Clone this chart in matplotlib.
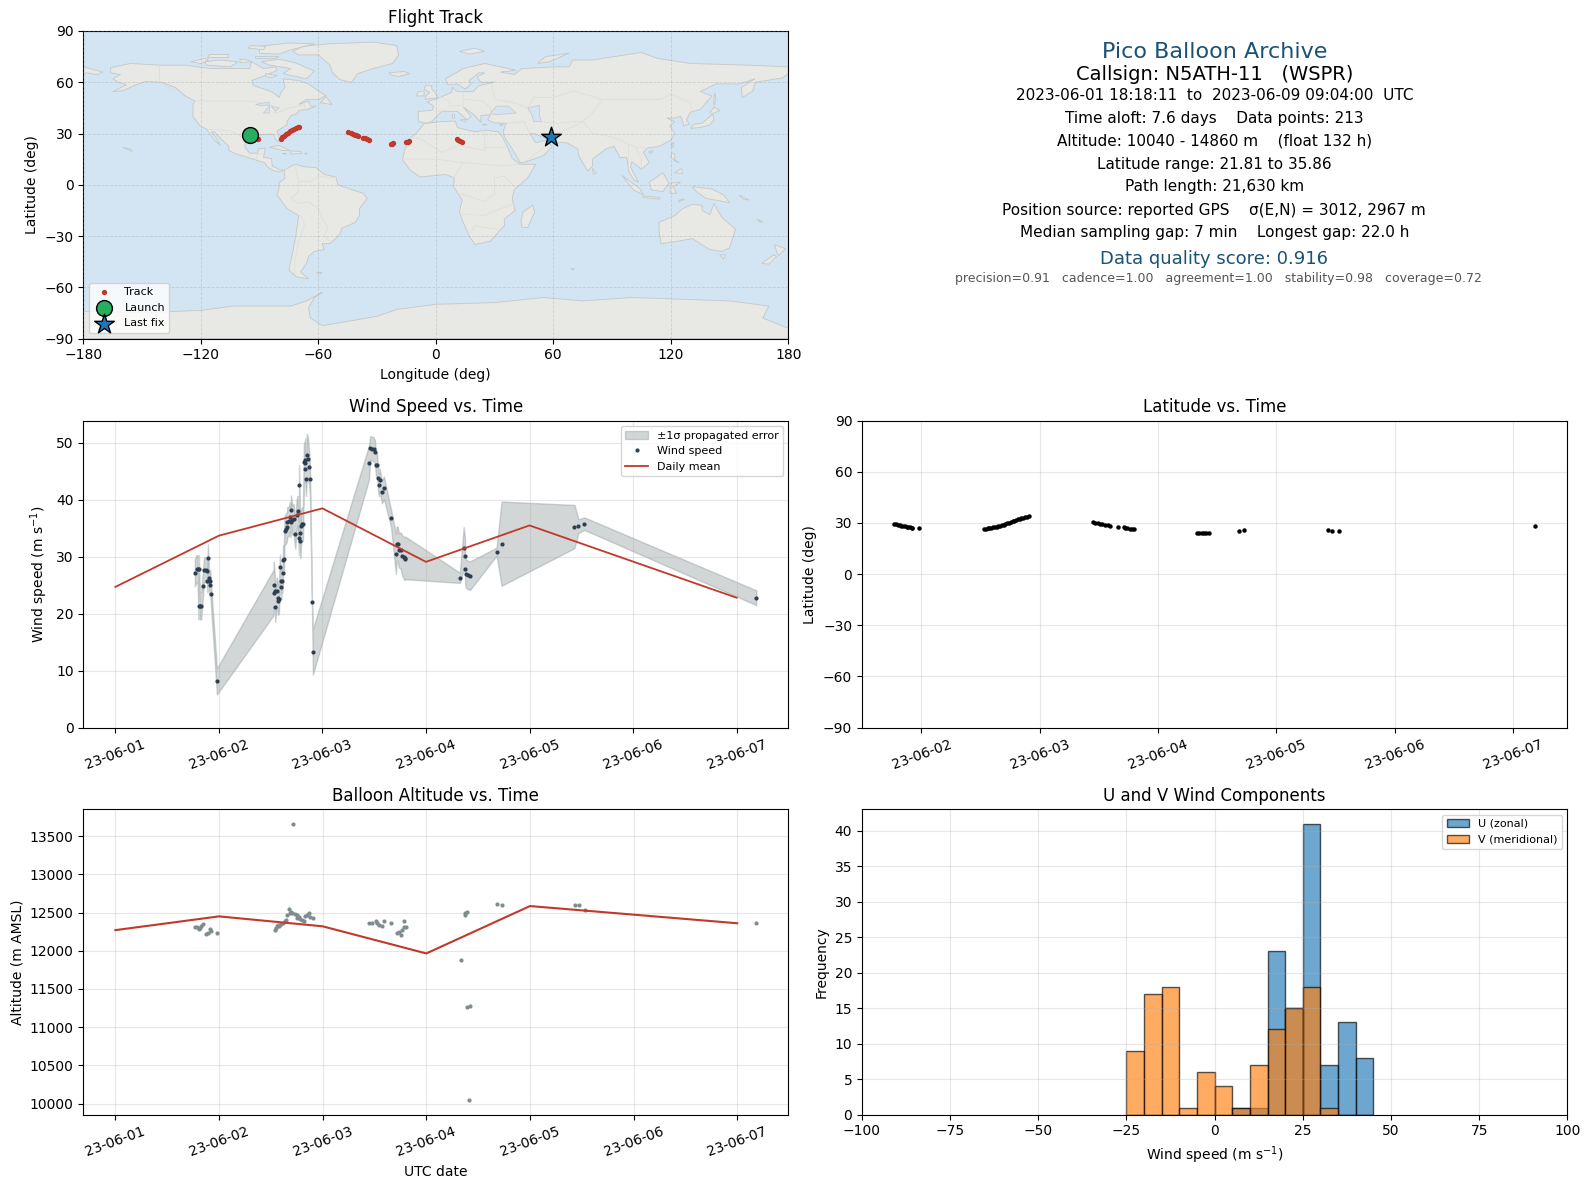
import numpy as np
import matplotlib
matplotlib.use('Agg')
import matplotlib.pyplot as plt
import matplotlib.dates as mdates
from datetime import datetime

# wind speed samples, t in days after 2023-06-01
wind_t = [0.768, 0.784, 0.794, 0.804, 0.807, 0.816, 0.829, 0.845, 0.855, 0.871, 0.884, 0.887, 0.894, 0.903, 0.904, 0.913, 0.916, 0.923, 0.981,
          1.528, 1.531, 1.541, 1.544, 1.560, 1.570, 1.571, 1.580, 1.589, 1.602, 1.603, 1.612, 1.618, 1.619, 1.628, 1.634, 1.647, 1.657, 1.660, 1.676, 1.683, 1.692, 1.696, 1.709, 1.721, 1.738, 1.750, 1.760, 1.773, 1.774, 1.783, 1.786, 1.795, 1.805, 1.812, 1.821, 1.828, 1.834, 1.835, 1.841, 1.850, 1.860, 1.870, 1.879, 1.899, 1.908,
          2.449, 2.462, 2.478, 2.494, 2.507, 2.517, 2.527, 2.536, 2.546, 2.552, 2.575, 2.594, 2.662, 2.710, 2.717, 2.726, 2.739, 2.755, 2.771, 2.784, 2.794, 2.800,
          3.328, 3.364, 3.377, 3.378, 3.386, 3.406, 3.428, 3.682, 3.730, 4.434, 4.473, 4.531, 6.190]
wind_v = [27.2, 27.9, 27.9, 21.4, 27.9, 21.4, 21.4, 24.9, 27.7, 27.7, 27.5, 25.8, 29.8, 26.3, 25.7, 25.1, 25.7, 23.5, 8.1,
          23.7, 25.1, 23.9, 21.2, 23.9, 22.7, 22.3, 22.5, 28.2, 24.7, 25.8, 25.8, 27.2, 29.5, 29.6, 34.6, 34.9, 35.3, 36.1, 36.2, 37.0, 36.1, 38.2, 36.4, 36.7, 34.0, 37.4, 38.1, 33.3, 42.6, 34.2, 32.8, 35.4, 35.7, 35.8, 46.6, 46.4, 47.0, 45.4, 43.7, 47.8, 47.2, 45.8, 43.7, 22.1, 13.3,
          46.5, 49.1, 49.0, 48.9, 48.4, 46.2, 46.2, 43.9, 42.6, 43.5, 41.4, 42.1, 36.8, 30.5, 32.3, 32.3, 31.1, 31.1, 30.2, 29.9, 29.6, 29.8,
          26.3, 31.5, 30.2, 27.9, 27.0, 26.8, 26.7, 30.9, 32.3, 35.3, 35.4, 35.8, 22.8]
wind_err = [2.4, 2.4, 2.4, 2.4, 2.4, 2.4, 2.4, 2.2, 2.2, 2.2, 2.2, 2.0, 2.4, 2.0, 2.0, 2.0, 2.0, 2.0, 2.3,
            4.0, 4.0, 2.5, 2.7, 2.5, 2.5, 2.5, 2.5, 2.2, 2.2, 2.2, 2.2, 2.2, 2.5, 2.5, 2.6, 2.6, 2.6, 2.6, 2.6, 2.6, 2.6, 2.6, 2.6, 2.6, 2.6, 2.6, 2.6, 3.0, 3.5, 3.0, 3.0, 3.0, 3.0, 3.0, 3.5, 3.5, 3.8, 3.0, 3.0, 3.8, 3.8, 3.0, 3.0, 1.0, 4.0,
            3.0, 2.1, 2.1, 2.1, 2.1, 2.0, 2.0, 2.0, 2.0, 2.0, 2.0, 2.0, 1.5, 3.5, 3.0, 3.0, 3.0, 3.2, 3.5, 3.7, 3.7, 3.75,
            0.9, 3.7, 3.0, 2.5, 2.5, 2.5, 2.5, 0.7, 7.4, 3.8, 1.2, 1.1, 1.3]

mean_t = [0, 1, 2, 3, 4, 6]
wind_mean = [24.7, 33.7, 38.5, 29.1, 35.5, 22.8]
alt_mean = [12270, 12450, 12320, 11965, 12585, 12360]

alt_t = [0.768, 0.787, 0.807, 0.820, 0.826, 0.845, 0.878, 0.894, 0.910, 0.923, 0.981,
         1.538, 1.548, 1.560, 1.570, 1.580, 1.596, 1.618, 1.635, 1.651, 1.660, 1.676, 1.683, 1.696, 1.709, 1.711, 1.731, 1.754, 1.757, 1.768, 1.779, 1.805, 1.821, 1.828, 1.850, 1.866, 1.876, 1.908,
         2.449, 2.472, 2.510, 2.527, 2.546, 2.572, 2.594, 2.662, 2.713, 2.739, 2.752, 2.762, 2.784, 2.787, 2.800,
         3.337, 3.369, 3.378, 3.388, 3.397, 3.41, 3.423, 3.683, 3.731, 4.433, 4.471, 4.529, 6.183]
alt_v = [12311, 12306, 12289, 12298, 12319, 12350, 12216, 12233, 12285, 12255, 12233,
         12268, 12298, 12328, 12340, 12328, 12345, 12362, 12385, 12405, 12470, 12552, 12491, 12510, 12491, 13661, 12483, 12470, 12427, 12440, 12414, 12397, 12384, 12457, 12470, 12496, 12440, 12423,
         12362, 12362, 12388, 12362, 12341, 12328, 12388, 12362, 12233, 12242, 12212, 12276, 12311, 12388, 12306,
         11876, 12474, 12491, 12504, 11266, 10047, 11279, 12617, 12604, 12604, 12604, 12539, 12357]

lat_t = [0.768, 0.784, 0.80, 0.816, 0.83, 0.845, 0.86, 0.875, 0.89, 0.903, 0.916, 0.923, 0.981,
         1.528, 1.545, 1.56, 1.575, 1.59, 1.605, 1.62, 1.635, 1.65, 1.665, 1.68, 1.695, 1.71, 1.725, 1.74, 1.755, 1.77, 1.785, 1.80, 1.815, 1.83, 1.845, 1.86, 1.875, 1.89, 1.908,
         2.449, 2.47, 2.49, 2.51, 2.53, 2.55, 2.575, 2.594, 2.662, 2.71, 2.725, 2.74, 2.76, 2.78, 2.80,
         3.33, 3.35, 3.37, 3.39, 3.41, 3.428, 3.682, 3.73, 4.434, 4.473, 4.531, 6.19]
lat_v = [29.5, 29.2, 29.0, 28.7, 28.5, 28.2, 28.0, 27.9, 27.7, 27.4, 27.1, 26.9, 27.1,
         26.4, 26.7, 26.9, 27.1, 27.3, 27.5, 27.7, 27.9, 28.2, 28.5, 28.8, 29.1, 29.4, 29.7, 30.1, 30.5, 30.9, 31.3, 31.7, 32.1, 32.5, 32.9, 33.2, 33.5, 33.7, 33.9,
         30.7, 30.2, 29.9, 29.6, 29.3, 29.0, 28.7, 28.4, 27.7, 27.4, 27.1, 26.9, 26.7, 26.5, 26.4,
         24.1, 24.0, 24.0, 24.0, 24.0, 24.1, 25.3, 25.9, 25.9, 25.2, 25.1, 28.2]

# ground track
track_lon = [-91, -79.3, -78.5, -77.5, -76.5, -75.5, -74.5, -73.5, -72.5, -71.5, -70.5, -70.1,
             -44.6, -43.5, -42.5, -41.5, -40.5, -39.5, -37, -36, -35, -34.2,
             -23, -22.3, -21.8, -15, -14.3, -13.5, 10.8, 11.5, 12.5, 13.5]
track_lat = [27, 27, 27.8, 28.7, 29.6, 30.4, 31.2, 32, 32.8, 33.4, 33.8, 34,
             30.6, 30.2, 29.8, 29.4, 29, 28.6, 27.6, 27.3, 26.9, 26.3,
             24, 24.1, 24.3, 25.1, 25.3, 25.6, 26.7, 26.2, 25.6, 25.1]
launch_lon, launch_lat = -95, 29
last_lon, last_lat = 59, 28

# U and V histogram, 5 m/s bins
hist_edges = [-25, -20, -15, -10, -5, 0, 5, 10, 15, 20, 25, 30, 35, 40]
u_counts = [0, 0, 0, 0, 0, 0, 1, 1, 23, 15, 41, 7, 13, 8]
v_counts = [9, 17, 18, 1, 6, 4, 1, 7, 12, 15, 18, 1, 0, 0]

# rough coastlines (lon, lat)
north_america = [(-166,68.5),(-156,71),(-141,70),(-128,70),(-115,68),(-108,68),(-95,68),(-94,72),(-88,68),(-82,69),(-81,67),(-87,64),(-94,61),(-93,58),(-85,55),(-82,53),(-80,51),(-79,54),(-77,57),(-78,62),(-70,61),(-65,59),(-60,55),(-56,52),(-60,50),(-66,50),(-70,47),(-65,49),(-64,46),(-61,46),(-66,44),(-70,43.5),(-71,41.5),(-74,40.5),(-76,37),(-76,35),(-81,31.5),(-80,27),(-80.5,25),(-82,27),(-83,29.5),(-85,29.7),(-90,29.2),(-94,29.5),(-97,27.5),(-97.5,22),(-95,18.5),(-91,18.5),(-90.5,21),(-87,21.5),(-88,16),(-84,15.5),(-83.5,11),(-80,9),(-77.5,8.5),(-80,7.5),(-83,8.3),(-85.5,10),(-87.5,13),(-92,14.5),(-96,16),(-102,18),(-105.5,20),(-106,23),(-109,26),(-113,31),(-114.7,31),(-112,27),(-110,23),(-112,25),(-115,29),(-117,32.5),(-120.5,34.5),(-124,40),(-124,47),(-123,49),(-128,52),(-133,57),(-140,60),(-148,60.5),(-153,58.5),(-160,55),(-165,54.5),(-158,58.5),(-162,60),(-165,62),(-161,64.5),(-166,65.5)]
south_america = [(-77.5,8.5),(-72,12),(-67,10.5),(-61,10),(-57,6),(-51,4.5),(-50,0),(-44,-2.5),(-37,-5),(-35,-8),(-39,-14),(-39,-18),(-41,-22),(-48,-25.5),(-49,-29),(-54,-34.5),(-58,-34.5),(-57,-38),(-62,-39),(-65,-42),(-66,-46),(-69,-51),(-65,-55),(-71,-54),(-75,-50),(-73.5,-42),(-71.5,-30),(-70,-18),(-76,-14),(-81,-6),(-80,-2),(-80,1),(-77,4)]
africa = [(-6,35.8),(3,37),(10,37.3),(11,33.5),(15,32.3),(20,31),(25,32),(32,31),(34,28),(37,21),(39,15.5),(43,12),(51,12),(47,4),(40,-3),(39,-8),(40.5,-15),(35,-20),(35,-24),(32.5,-27),(28,-33),(20,-35),(17,-30),(14,-22),(12,-16),(13.5,-9),(9,-1),(9.5,4),(5,6),(-4,5),(-8,4.5),(-13,8.5),(-17,14.5),(-16,20),(-13,27.5),(-10,30)]
eurasia = [(-9,37),(-9,43),(-2,43.5),(-1,46),(-4.5,48.5),(2,51),(8,54),(8.5,57),(11,54.5),(19,54.5),(22,58),(30,60),(23,60),(21,63),(25,65.5),(22,65.5),(17,61),(18,59),(15,56),(11,59),(6,58.5),(5,62),(14,68),(25,71),(41,67),(33,66),(40,64.5),(44,68),(60,69),(68,69),(70,73),(80,73),(105,77.5),(113,74),(130,71),(160,70),(180,69),(180,65),(177,62.5),(163,60),(162,55),(156.5,51),(156,57),(163,62),(155,59),(143,59),(135,54.5),(141,52),(135,44),(130,42.5),(128,38),(129.5,35.5),(126.5,34.5),(126,37.5),(125,40),(121.5,39),(118,39),(122,37),(119.5,34.5),(122,30),(120,26),(114,22.5),(108,21.5),(106,19),(109,13),(105,9),(103,11),(100,13.5),(99.5,10),(103.5,1.5),(101,3),(98.5,8),(97.5,16),(94,16),(91,22.5),(87,21),(80,15),(80,11),(77.5,8),(73,17),(72.5,21),(67,24.5),(57,25.5),(56.5,27),(50,30),(48,30),(51,24.5),(56,26),(59.5,22.5),(55,17),(45,13),(43,13),(39,21),(35,28),(34.5,31.5),(36,36),(30,36.2),(26.5,38),(28,41),(23,40.5),(23,36.5),(19.5,41),(14,45.5),(18,40),(16,38),(11,43),(3,43),(0,39.5),(-2,37),(-5,36)]
chukotka = [(-180,69),(-175,67.5),(-170,66),(-173,64.5),(-178,65.5),(-180,65)]
antarctica = [(-180,-90),(180,-90),(180,-84),(167,-78),(170,-71),(150,-68),(100,-66),(75,-68),(55,-66),(30,-69),(0,-70),(-20,-73),(-30,-77),(-58,-82.5),(-64,-78),(-65,-72),(-62,-66),(-58,-63),(-66,-68),(-74,-71),(-103,-71),(-120,-73.5),(-150,-75),(-180,-74)]
australia = [(114,-22),(122,-18),(126,-14),(131,-11.5),(136,-12),(136,-15),(140,-17.5),(142,-11),(146,-19),(153,-26),(150,-37),(146,-39),(140,-38),(135,-34.5),(131,-31.5),(124,-33),(115,-34.5),(114,-27)]
greenland = [(-73,78),(-68,81),(-55,82.5),(-32,83.5),(-20,81.5),(-19,76),(-22,71),(-32,68),(-40,65),(-43,60),(-49,61.5),(-53,66),(-54,70),(-60,76),(-70,76)]
islands = [
    [(-80,73.5),(-72,71.5),(-62,66.5),(-66,62),(-72,63.5),(-78,65),(-74,68),(-85,70),(-89,72)],
    [(-117,70),(-105,69),(-101,72),(-110,73),(-118,72)],
    [(-90,77),(-80,76.5),(-74,79),(-62,82.5),(-75,83),(-90,81)],
    [(-125,72),(-118,74),(-116,73),(-120,71)],
    [(-92,75),(-80,75),(-82,74),(-92,74)],
    [(-117,75),(-106,75),(-106,76.5),(-116,76.5)],
    [(-100,73.5),(-96,73),(-94,72),(-100,71.5)],
    [(-87,65),(-81,64),(-84,62.5),(-87,63.5)],
    [(-96,80),(-88,79),(-87,81),(-94,81.5)],
    [(-59,48),(-53,47),(-56,51.5)],
    [(-85,22),(-80,23),(-74.5,20),(-78,20)],
    [(-74,19.8),(-69,19.5),(-68.5,18.3),(-74,18)],
    [(-78.3,18.4),(-76.3,18.2),(-77,17.8)],
    [(-67,18.4),(-65.7,18.4),(-66,17.9)],
    [(-160,22),(-155,19.5),(-156,21)],
    [(-61,-51.5),(-58,-51.3),(-59,-52.3)],
    [(-24,65.5),(-16,66.3),(-13.5,65),(-19,63.4),(-22.5,64)],
    [(-5.5,50),(1,51),(0,53.5),(-2,56),(-2,57.7),(-5,58.5),(-6,56),(-3,54),(-5,52)],
    [(-10,52),(-6,52),(-6,55),(-9,54.5)],
    [(12,78),(20,80),(25,78),(17,76.5)],
    [(52,71),(56,75),(68,77),(58,72)],
    [(8.3,41),(9.7,41),(9.5,39),(8.5,39)],
    [(12.5,38),(15.5,38.2),(15,36.7)],
    [(23.5,35.5),(26.3,35.2),(24.5,34.9)],
    [(32.3,35),(34.5,35.6),(33.5,34.6)],
    [(49.5,-12),(50.5,-16),(47,-25),(44,-25),(43.5,-21),(44.5,-16)],
    [(80,9.5),(82,7),(80.5,6)],
    [(130,33),(132,35.5),(136,36),(140,40),(141.5,41),(142,38),(140,35),(135,33.5)],
    [(140,42),(142,45.5),(145,43.5),(141,41.5)],
    [(142,46),(143,50),(142.5,54),(142,50)],
    [(95,5.5),(104,-2),(106,-6),(101,-3)],
    [(105.5,-6.5),(114.5,-7.5),(114,-8.5),(106,-7.5)],
    [(109,1.5),(116,7),(119,1),(116,-4),(110,-3)],
    [(119.5,-5),(120,1),(125,1.5),(121,-1),(123,-5)],
    [(131,-1),(141,-2.5),(147,-6),(150,-10.5),(143,-9),(138,-8),(133,-4)],
    [(124,-9),(127,-8.5),(124,-10)],
    [(120,16),(120.5,18.5),(122,18),(122,14),(124,13)],
    [(122,7),(125.5,9.5),(126,6.5)],
    [(120,23),(121.5,25),(121,22)],
    [(108.7,19.3),(111,20),(110,18.3)],
    [(155,-6),(160,-9),(157,-8.5)],
    [(164,-20),(167,-22),(165.5,-21.8)],
    [(145,-41),(148,-41),(147,-43.5)],
    [(173,-35),(178.5,-37.5),(175,-41.5),(174,-39)],
    [(172.5,-41),(174,-42),(170,-46.5),(166.5,-46)],
    [(69,-49),(70.5,-49),(70,-50)],
]
inland_water = [
    [(28,42),(31,46),(37,46),(41,42),(36,41.5),(30,41)],
    [(47,45),(53,46.5),(53,40),(54,37),(50,37),(49,41)],
    [(-92,47),(-85,48.5),(-85,46.5),(-90,46.5)],
    [(-88,42),(-85,46),(-85,42)],
    [(-84,46),(-80,45),(-82,43)],
]
borders = [
    [(-141,70),(-141,60),(-133,55)],
    [(-123,49),(-95,49),(-89,48),(-83,46),(-82,42),(-79,43),(-75,45),(-70,46),(-67,47),(-67,45)],
    [(-117,32.5),(-106,31.8),(-101,29.5),(-97,26)],
    [(-92,14.5),(-91,18),(-88,18)],
    [(-52,4),(-60,5),(-64,2),(-70,2),(-70,-4),(-74,-8),(-70,-11),(-65,-10),(-60,-14),(-58,-20),(-55,-25),(-57,-30),(-53,-34)],
    [(-69,-18),(-67,-23),(-70,-33),(-72,-45),(-72,-52)],
    [(-72,12),(-70,2)],
    [(-13,27.5),(-8,27),(3,19),(12,23),(25,20),(25,32)],
    [(25,22),(37,22)],
    [(-17,15),(0,15),(14,13),(24,12),(35,11),(42,12)],
    [(9,4),(14,13)],
    [(12,-5),(25,-10),(30,-5),(30,4),(35,5),(41,-2)],
    [(12,-17),(25,-18),(33,-14),(40,-11)],
    [(17,-29),(20,-24),(25,-25),(32,-26)],
    [(-2,43.5),(3,43)],
    [(2,51),(7,49),(7,46),(14,46.5),(14,54)],
    [(14,50),(24,49),(28,45),(28,42)],
    [(28,60),(30,50),(40,48),(47,45),(50,51),(60,51),(70,55),(85,50),(98,50),(115,50),(120,53),(130,48),(131,43)],
    [(75,37),(80,30),(90,28),(98,24),(102,22),(108,21.5)],
    [(62,25),(62,30),(70,34),(75,37)],
    [(54,37),(62,36),(70,37),(75,37),(80,42),(85,50)],
    [(36,36),(45,37),(48,30)],
    [(35,30),(48,30)],
    [(45,13),(52,19),(55,22)],
    [(98,24),(98,10)],
    [(102,22),(105,15),(105,9)],
]

title_lines = ['2023-06-01 18:18:11  to  2023-06-09 09:04:00  UTC',
               'Time aloft: 7.6 days    Data points: 213',
               'Altitude: 10040 - 14860 m    (float 132 h)',
               'Latitude range: 21.81 to 35.86',
               'Path length: 21,630 km',
               'Position source: reported GPS    \u03c3(E,N) = 3012, 2967 m',
               'Median sampling gap: 7 min    Longest gap: 22.0 h']
title_y = [95, 118, 141, 164, 187, 210, 233]

base = mdates.date2num(datetime(2023, 6, 1))
def dates(t):
    return base + np.array(t)

RED = '#c0392b'
DARK = '#2c3e50'
GREY = '#7f8c8d'
BLUE = '#1a5276'

W, H = 1590.0, 1189.0
def place(x0, y0, x1, y1):
    return fig.add_axes([x0/W, 1 - y1/H, (x1-x0)/W, (y1-y0)/H])

def date_axis(ax):
    ax.xaxis.set_major_locator(mdates.DayLocator())
    ax.xaxis.set_major_formatter(mdates.DateFormatter('%y-%m-%d'))
    ax.tick_params(axis='x', rotation=20)
    ax.grid(True, alpha=0.3)

fig = plt.figure(figsize=(15.9, 11.89), dpi=100)
ax_map = place(83.3, 31, 788.3, 338.5)
ax_wind = place(83.3, 420.7, 788.3, 727.5)
ax_lat = place(862, 420.7, 1567.3, 727.5)
ax_alt = place(83.3, 809, 788.3, 1114.7)
ax_hist = place(862, 809, 1567.3, 1114.7)

# map
ax_map.set_facecolor('#d3e5f2')
for poly in [north_america, south_america, africa, eurasia, chukotka, antarctica, australia, greenland] + islands:
    xy = np.array(poly)
    ax_map.fill(xy[:, 0], xy[:, 1], facecolor='#e8e8e4', edgecolor='#c4c8c8', lw=0.6, zorder=1)
for poly in inland_water:
    xy = np.array(poly)
    ax_map.fill(xy[:, 0], xy[:, 1], facecolor='#d3e5f2', edgecolor='#c4c8c8', lw=0.5, zorder=1.1)
for line in borders:
    xy = np.array(line)
    ax_map.plot(xy[:, 0], xy[:, 1], color='#dcdcd8', lw=0.5, zorder=1.2)
ax_map.scatter(track_lon, track_lat, s=8, color=RED, zorder=3, label='Track')
ax_map.scatter([launch_lon], [launch_lat], s=130, color='#27ae60', edgecolor='black', zorder=4, label='Launch')
ax_map.scatter([last_lon], [last_lat], s=220, marker='*', color='#1f77b4', edgecolor='black', zorder=4, label='Last fix')
ax_map.set_xlim(-180, 180)
ax_map.set_ylim(-90, 90)
ax_map.set_xticks(np.arange(-180, 181, 60))
ax_map.set_yticks(np.arange(-90, 91, 30))
ax_map.xaxis.set_major_formatter(lambda v, p: f'{v:.0f}'.replace('-', '\u2212'))
ax_map.yaxis.set_major_formatter(lambda v, p: f'{v:.0f}'.replace('-', '\u2212'))
ax_map.grid(True, color='#8a959a', alpha=0.3, lw=0.6, ls='--', zorder=2)
ax_map.set_axisbelow(False)
ax_map.set_xlabel('Longitude (deg)')
ax_map.set_ylabel('Latitude (deg)')
ax_map.set_title('Flight Track', fontsize=12)
ax_map.legend(loc='lower left', fontsize=8)

# text block
cx = 1214.3 / W
fig.text(cx, 1 - 52/H, 'Pico Balloon Archive', fontsize=16, color=BLUE, ha='center', va='center')
fig.text(cx, 1 - 74/H, 'Callsign: N5ATH-11   (WSPR)', fontsize=14, ha='center', va='center')
for line, y in zip(title_lines, title_y):
    fig.text(cx, 1 - y/H, line, fontsize=11, ha='center', va='center')
fig.text(cx, 1 - 258.5/H, 'Data quality score: 0.916', fontsize=13, color=BLUE, ha='center', va='center')
fig.text(cx + 4/W, 1 - 279/H, 'precision=0.91   cadence=1.00   agreement=1.00   stability=0.98   coverage=0.72',
         fontsize=9, color='#555555', ha='center', va='center')

# wind speed
wt = dates(wind_t)
wv = np.array(wind_v)
we = np.array(wind_err)
ax_wind.fill_between(wt, wv - we, wv + we, color=GREY, alpha=0.35, label='\u00b11\u03c3 propagated error')
ax_wind.plot(wt, wv, ls='none', marker='o', ms=2, color=DARK, label='Wind speed')
ax_wind.plot(dates(mean_t), wind_mean, color=RED, lw=1.3, label='Daily mean')
ax_wind.set_ylim(0, 53.9)
ax_wind.set_ylabel('Wind speed (m s$^{-1}$)')
ax_wind.set_title('Wind Speed vs. Time', fontsize=12)
ax_wind.legend(loc='upper right', fontsize=8)
date_axis(ax_wind)

# latitude
ax_lat.plot(dates(lat_t), lat_v, ls='none', marker='o', ms=2.2, color='black')
ax_lat.set_ylim(-90, 90)
ax_lat.set_yticks(np.arange(-90, 91, 30))
ax_lat.set_ylabel('Latitude (deg)')
ax_lat.set_title('Latitude vs. Time', fontsize=12)
date_axis(ax_lat)

# altitude
ax_alt.plot(dates(alt_t), alt_v, ls='none', marker='o', ms=2, color=GREY)
ax_alt.plot(dates(mean_t), alt_mean, color=RED, lw=1.5)
ax_alt.set_ylim(9855, 13855)
ax_alt.set_xlabel('UTC date')
ax_alt.set_ylabel('Altitude (m AMSL)')
ax_alt.set_title('Balloon Altitude vs. Time', fontsize=12)
date_axis(ax_alt)

# histogram
ax_hist.bar(hist_edges, u_counts, width=5, align='edge', color='#1f77b4', edgecolor='black', alpha=0.65, label='U (zonal)')
ax_hist.bar(hist_edges, v_counts, width=5, align='edge', color='#ff7f0e', edgecolor='black', alpha=0.65, label='V (meridional)')
ax_hist.set_xlim(-100, 100)
ax_hist.set_ylim(0, 43.05)
ax_hist.set_xticks(np.arange(-100, 101, 25))
ax_hist.set_yticks(np.arange(0, 41, 5))
ax_hist.set_xlabel('Wind speed (m s$^{-1}$)')
ax_hist.set_ylabel('Frequency')
ax_hist.set_title('U and V Wind Components', fontsize=12)
ax_hist.grid(True, alpha=0.3)
ax_hist.legend(loc='upper right', fontsize=8)

fig.savefig('out.png', dpi=100)
